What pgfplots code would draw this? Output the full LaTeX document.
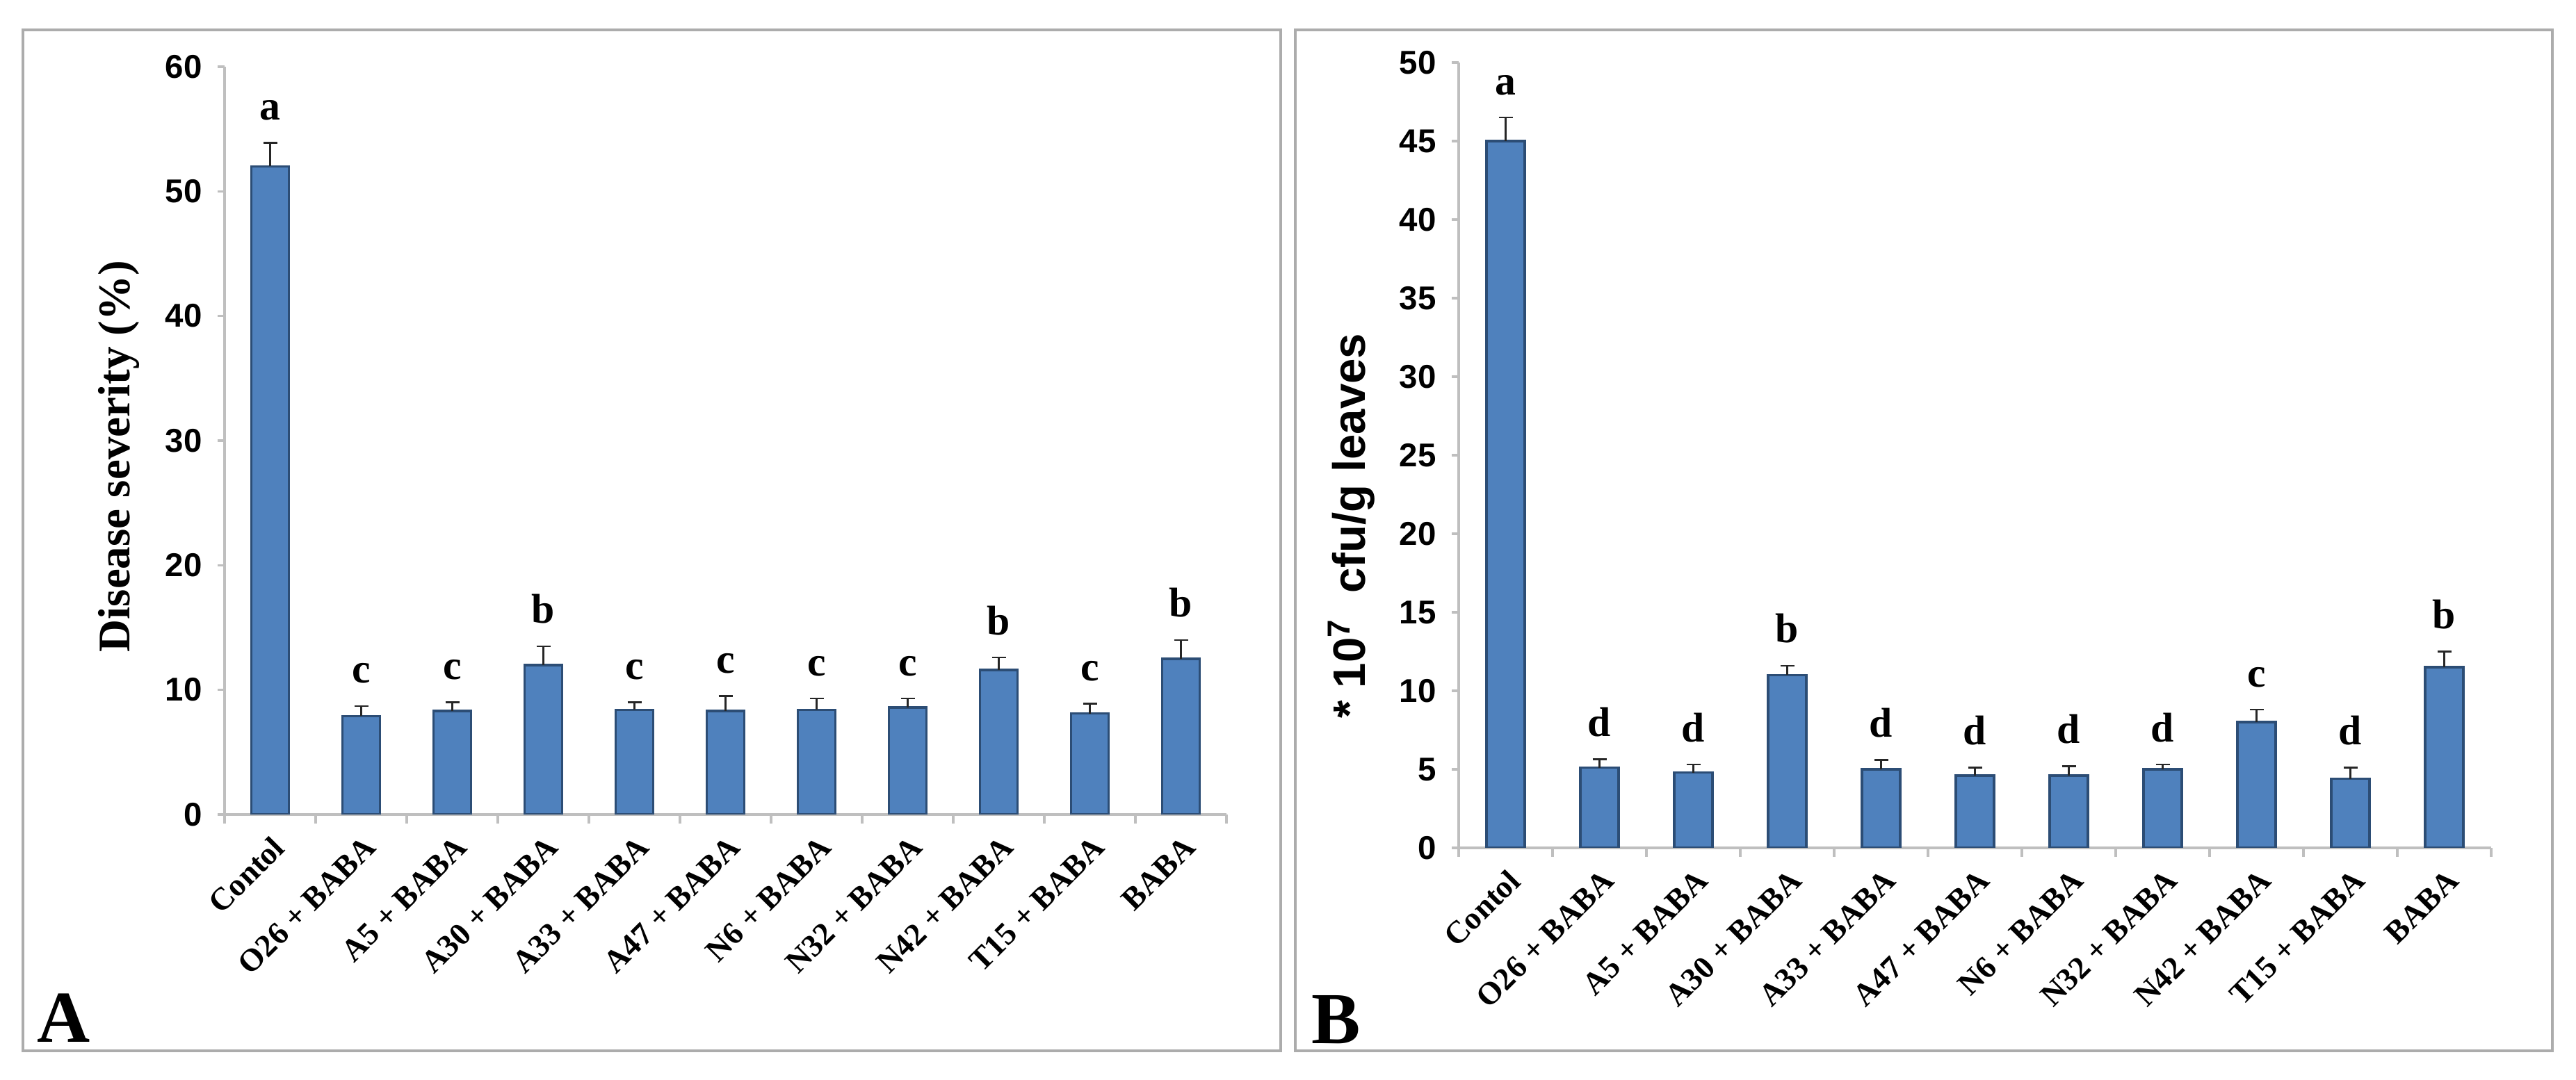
\documentclass[border=0pt]{standalone}
\usepackage{pgfplots}
\pgfplotsset{compat=1.18}
\usepackage{pgfplotstable}
\usepackage{fontspec}
\setmainfont{Liberation Serif}
\newfontfamily\arialf{Liberation Sans}
\definecolor{barfill}{HTML}{4F81BD}
\definecolor{baredge}{HTML}{2C4D75}

% panel A: disease severity (%)
\pgfplotstableread{
x val err lab
0 52.0 1.9 a
1 7.9 0.8 c
2 8.3 0.7 c
3 12.0 1.5 b
4 8.4 0.6 c
5 8.3 1.2 c
6 8.4 0.9 c
7 8.6 0.7 c
8 11.6 1.0 b
9 8.1 0.8 c
10 12.5 1.5 b
}\dataA

% panel B: 10^7 cfu/g leaves
\pgfplotstableread{
x val err lab
0 45.0 1.5 a
1 5.1 0.55 d
2 4.8 0.5 d
3 11.0 0.6 b
4 5.0 0.6 d
5 4.6 0.5 d
6 4.6 0.6 d
7 5.0 0.3 d
8 8.0 0.8 c
9 4.4 0.7 d
10 11.5 1.0 b
}\dataB

\pgfplotsset{
  panel/.style={
    scale only axis,
    anchor=south west,
    xmin=-0.5, xmax=10.5, ymin=0,
    axis x line*=bottom, axis y line*=left,
    axis line style={draw=gray!50, line width=0.35mm, -},
    xtick={0,...,10},
    xticklabels={Contol, O26 + BABA, A5 + BABA, A30 + BABA, A33 + BABA, A47 + BABA, N6 + BABA, N32 + BABA, N42 + BABA, T15 + BABA, BABA},
    major x tick style={draw=none},
    minor xtick={-0.5,0.5,...,10.5},
    minor x tick style={draw=gray!50, line width=0.35mm},
    minor tick length=1.3mm,
    ytick style={draw=gray!50, line width=0.35mm},
    major tick length=1mm,
    tick align=outside,
    xticklabel style={rotate=45, anchor=east, yshift=-3mm,
      font=\bfseries\fontsize{13}{13}\selectfont},
    yticklabel style={font=\arialf\bfseries\fontsize{13.5}{13.5}\selectfont, xshift=-1mm},
    /pgf/number format/assume math mode=true,
  },
  bars/.style={
    ybar, bar width=0.41, fill=barfill, draw=baredge, line width=0.35mm,
    error bars/.cd, y dir=plus, y explicit,
    error bar style={black!85, line width=0.25mm},
    error mark options={rotate=90, mark size=1mm, black!85, line width=0.25mm},
  },
  letters/.style={
    draw=none, mark=none, nodes near coords, point meta=explicit symbolic,
    nodes near coords style={anchor=base, inner sep=0pt, yshift=3.3mm,
      font=\bfseries\fontsize{17}{17}\selectfont},
  },
}

\begin{document}
\begin{tikzpicture}
\useasboundingbox (0,0) rectangle (370.5mm,155.4mm);
\fill[white] (0,0) rectangle (370.5mm,155.4mm);
\draw[gray!65, line width=0.45mm] (3.3mm,4.2mm) rectangle (184.2mm,151.1mm);
\draw[gray!65, line width=0.45mm] (186.3mm,4.2mm) rectangle (367.1mm,151.1mm);

\begin{axis}[panel,
  at={(32.3mm,38.2mm)}, width=144.1mm, height=107.6mm,
  ymax=60, ytick={0,10,...,60},
  ylabel={Disease severity (\%)},
  ylabel style={at={(axis description cs:-0.1055,0.479)}, anchor=center,
    font=\bfseries\fontsize{18.5}{18.5}\selectfont},
]
\addplot[bars] table[x=x, y=val, y error=err] {\dataA};
\addplot[letters] table[x=x, y expr=\thisrow{val}+\thisrow{err}, meta=lab] {\dataA};
\end{axis}

\begin{axis}[panel,
  at={(209.8mm,33.4mm)}, width=148.5mm, height=113mm,
  ymax=50, ytick={0,5,...,50},
  ylabel={* 10\textsuperscript{7}\ \ cfu/g leaves},
  ylabel style={at={(axis description cs:-0.104,0.41)}, anchor=center,
    font=\arialf\bfseries\fontsize{18.6}{18.6}\selectfont},
]
\addplot[bars] table[x=x, y=val, y error=err] {\dataB};
\addplot[letters] table[x=x, y expr=\thisrow{val}+\thisrow{err}, meta=lab] {\dataB};
\end{axis}

\node[anchor=base west, inner sep=0pt, font=\bfseries\fontsize{30}{30}\selectfont] at (5.3mm,5.4mm) {A};
\node[anchor=base west, inner sep=0pt, font=\bfseries\fontsize{30}{30}\selectfont] at (188.6mm,5.2mm) {B};
\end{tikzpicture}
\end{document}
